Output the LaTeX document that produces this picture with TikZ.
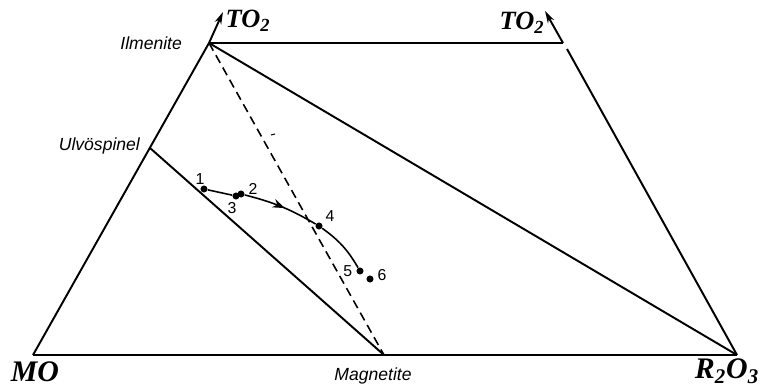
\documentclass[tikz,border=0pt]{standalone}
\usepackage{fontspec}
\setsansfont{Liberation Sans}
\newfontfamily\oxfont{Liberation Serif}
\usetikzlibrary{arrows.meta,positioning,decorations.markings}

\begin{document}
\begin{tikzpicture}[x=0.02cm, y=-0.02cm,
    edge/.style={line width=1.1pt},
    phase/.style={font=\sffamily\itshape\fontsize{10}{12}\selectfont, inner sep=1pt},
    oxide/.style={font=\oxfont\bfseries\itshape\fontsize{17}{20}\selectfont, inner sep=1pt},
    pt/.style={circle, fill, inner sep=0pt, minimum size=4pt},
    num/.style={font=\sffamily\fontsize{9}{10}\selectfont, inner sep=1pt},
    axis/.style={line width=1.1pt, -{Stealth[length=7pt, width=4pt]}}
  ]
    \useasboundingbox (0,0) rectangle (770,388);
    % corners of the diagram
    \coordinate (mo) at (33,355);
    \coordinate (ilm) at (209,43);
    \coordinate (tr) at (563,43);
    \coordinate (rox) at (737,355);
    \coordinate (ulv) at (150,148);
    \coordinate (mag) at (384,355);
    \coordinate (tl) at (223,12);
    \coordinate (tra) at (545,11);
    \coordinate (trb) at (567,49);
    % outline
    \draw[edge] (mo) -- (rox);
    \draw[edge] (mo) -- (ilm);
    \draw[axis] (ilm) -- (tl);
    \draw[edge] (ilm) -- (tr);
    \draw[axis] (tr) -- (tra);
    \draw[edge] (rox) -- (trb);
    \draw[edge] (ilm) -- (rox);
    \draw[edge] (ulv) -- (mag);
    \draw[line width=0.9pt, dash pattern=on 5pt off 3pt] (ilm) -- (mag);
    \coordinate (tk1) at (271,135);
    \coordinate (tk2) at (275,134);
    \draw[line width=0.6pt] (tk1) -- (tk2);
    % labels
    \node[phase, anchor=east] (lilm) at (184,43) {Ilmenite};
    \node[phase, anchor=east] (lulv) at (142,146) {Ulvöspinel};
    \node[phase] (lmag) at (373,376) {Magnetite};
    \node[oxide] (lmo) at (35,372) {MO};
    \node[oxide] (lrox) at (727,371) {R\textsubscript{2}O\textsubscript{3}};
    \node[oxide, font=\oxfont\bfseries\itshape\fontsize{15}{18}\selectfont] (lto1) at (248,21) {TO\textsubscript{2}};
    \node[oxide, font=\oxfont\bfseries\itshape\fontsize{15}{18}\selectfont] (lto2) at (522,23) {TO\textsubscript{2}};
    % analysed compositions
    \node[pt] (p1) at (204,189) {};
    \node[pt] (p2) at (241,194) {};
    \node[pt] (p3) at (236,196) {};
    \node[pt] (p4) at (319,226) {};
    \node[pt] (p5) at (360,271) {};
    \node[pt] (p6) at (370,279) {};
    \node[num, above left=0pt and -3pt of p1] {1};
    \node[num, right=1pt of p2, yshift=3pt] {2};
    \node[num, below left=1pt and -3pt of p3] {3};
    \node[num, above right=0pt and 1pt of p4] {4};
    \node[num, left=1pt of p5] {5};
    \node[num, right=1pt of p6, yshift=2pt] {6};
    % trend
    \draw[line width=0.9pt] (p1) -- (p3);
    \draw[line width=0.9pt, decoration={markings,
        mark=at position 0.55 with {\arrow{Stealth[length=7pt, width=5pt]}}},
        postaction={decorate}] (p2) to[bend left=8] (p4);
    \draw[line width=0.9pt] (p4) to[bend left=12] (p5);
  \end{tikzpicture}
\end{document}
